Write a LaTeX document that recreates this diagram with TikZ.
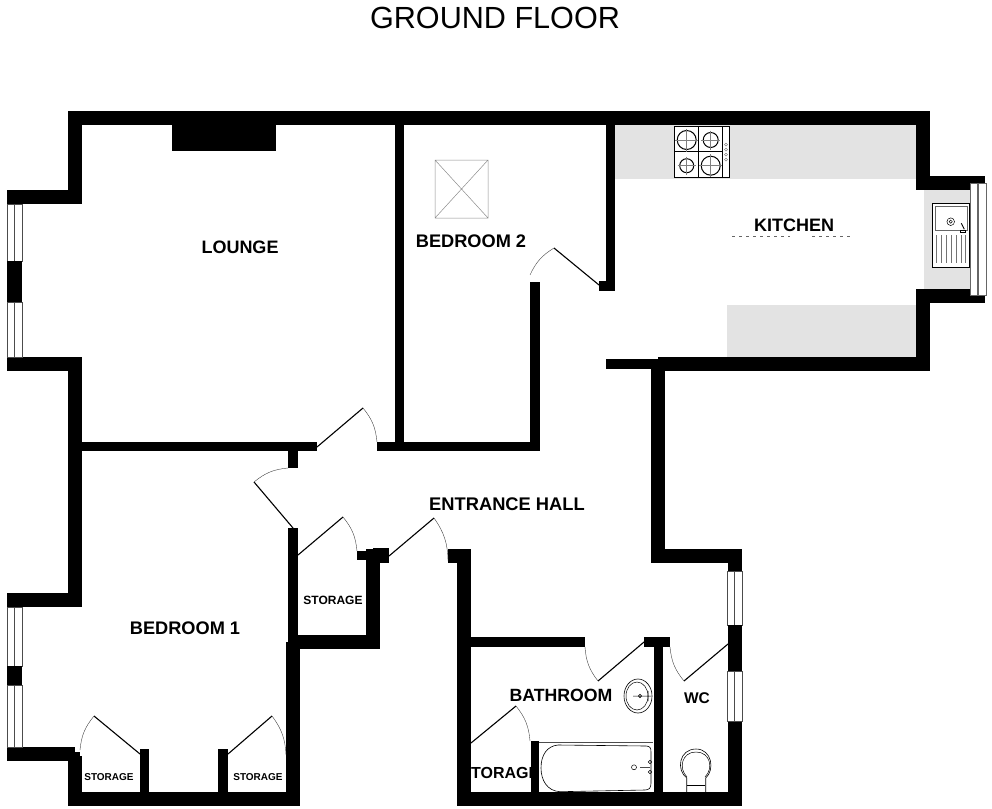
\documentclass[tikz,border=0pt]{standalone}
\usepackage{fontspec}
\setmainfont{Liberation Sans}

\begin{document}
\begin{tikzpicture}[
    x=1pt, y=-1pt,
    wall/.style={fill=black},
    worktop/.style={fill=black!11},
    window pane/.style={draw=black!70, fill=white, line width=0.7pt},
    door leaf/.style={draw=black, line width=1.1pt},
    door swing/.style={draw=black!75, line width=0.4pt},
    fitting/.style={draw=black, line width=0.7pt},
    room label/.style={font=\fontsize{#1}{#1}\selectfont\bfseries, inner sep=0pt}
]
\useasboundingbox (0,0) rectangle (992,808);

% Title
\node[font=\fontsize{30.6}{31}\selectfont, inner sep=0pt] (title) at (495,18) {GROUND FLOOR};

% Worktops
\fill[worktop] (615,125) rectangle (916,179);
\fill[worktop] (727,305) rectangle (916,357);
\fill[worktop] (924,190) rectangle (970,289);

% Outer walls
\fill[wall] (68,111) rectangle (930,125);
\fill[wall] (68,111) rectangle (82,204);
\fill[wall] (7,190) rectangle (82,204);
\fill[wall] (7,357) rectangle (82,371);
\fill[wall] (68,357) rectangle (82,607);
\fill[wall] (7,593) rectangle (82,607);
\fill[wall] (7,747) rectangle (75,761);
\fill[wall] (68,752) rectangle (80,806);
\fill[wall] (68,756) rectangle (82,806);
\fill[wall] (68,792) rectangle (300,806);
\fill[wall] (916,111) rectangle (930,190);
\fill[wall] (916,176) rectangle (985,190);
\fill[wall] (916,289) rectangle (985,303);
\fill[wall] (916,289) rectangle (930,371);
\fill[wall] (658,357) rectangle (930,371);
\fill[wall] (651,359) rectangle (665,563);
\fill[wall] (651,549) rectangle (742,563);
\fill[wall] (728,549) rectangle (742,806);
\fill[wall] (457,792) rectangle (742,806);
\fill[wall] (457,549) rectangle (471,806);
\fill[wall] (448,549) rectangle (471,563);
\fill[wall] (286,642) rectangle (300,806);
\fill[wall] (298,635) rectangle (380,649);
\fill[wall] (366,549) rectangle (380,649);
\fill[wall] (373,548) rectangle (389,563);

% Inner walls
\fill[wall] (172,125) rectangle (276,151);
\fill[wall] (395,125) rectangle (404,451);
\fill[wall] (82,442) rectangle (317,451);
\fill[wall] (377,442) rectangle (540,451);
\fill[wall] (530,282) rectangle (540,451);
\fill[wall] (606,125) rectangle (615,289);
\fill[wall] (599,281) rectangle (615,290.5);
\fill[wall] (606,359) rectangle (658,368.5);
\fill[wall] (288,451) rectangle (298,468);
\fill[wall] (288,528) rectangle (298,642);
\fill[wall] (357,551) rectangle (366,560);
\fill[wall] (471,637) rectangle (585,647);
\fill[wall] (644,637) rectangle (670,647);
\fill[wall] (654,637) rectangle (663,792);
\fill[wall] (531,741) rectangle (539,792);
\fill[wall] (140,749) rectangle (149,792);
\fill[wall] (218,749) rectangle (228,792);

% Windows
\foreach \wx/\wtop/\wbot in {7/204/261, 7/302/357, 7/607/666, 7/685/747, 727/571/625, 727/671/721} {
    \draw[window pane] (\wx,\wtop) rectangle ++(15.6,\wbot-\wtop);
    \draw[window pane] (\wx+7.8,\wtop) -- (\wx+7.8,\wbot);
}
\fill[wall] (7,261) rectangle (22,302);
\fill[wall] (7,666) rectangle (22,685);
\fill[wall] (728,625) rectangle (742,671);
\draw[window pane, draw=black!60, line width=1pt] (970,183) rectangle (986,295);
\draw[draw=black!60, line width=1.2pt] (978,183) -- (978,295);

% Doors
\foreach \hx/\hy/\tx/\ty/\ex/\ey in {317/447/363/408/377/442, 293/528/254/482/288/468,
    298/555/343/517/357/551, 389/556/434/518/448/561, 644/642/598/681/585/647,
    728/644/684/681/670/647, 471/743/516/706/530/741, 228/754/272/716/286/755} {
    \draw[door leaf] (\hx,\hy) -- (\tx,\ty);
    \draw[door swing] (\tx,\ty) to[bend left=17] (\ex,\ey);
}
\foreach \hx/\hy/\tx/\ty/\ex/\ey in {599/285/554/248/530/275, 140/754/94/716/80/750} {
    \draw[door leaf] (\hx,\hy) -- (\tx,\ty);
    \draw[door swing] (\tx,\ty) to[bend right=17] (\ex,\ey);
}

% Skylight
\draw[draw=black!45, line width=0.5pt] (435,160) rectangle (488,218)
    (435,160) -- (488,218) (488,160) -- (435,218);

% Hob
\begin{scope}[shift={(674.7,126.7)}]
    \draw[fitting, fill=white, line width=1pt] (0,0) rectangle (54.6,51);
    \draw[fitting] (23.6,0) -- (23.6,51) (48,0) -- (48,51) (0,24.3) -- (48,24.3);
    \foreach \bx/\by/\br in {12/13.3/9.5, 36/13.3/7.5, 12/39/7, 36/39/9.5} {
        \draw[fitting, fill=white, line width=1pt] (\bx,\by) circle[radius=\br];
        \draw[draw=black!50, line width=0.5pt] (\bx-\br-2,\by) -- (\bx+\br+2,\by) (\bx,\by-\br-2) -- (\bx,\by+\br+2);
    }
    \foreach \ky in {18,23,28,33} {
        \draw[draw=black!60, line width=0.4pt] (51.3,\ky) circle[radius=1.5];
    }
\end{scope}

% Sink
\begin{scope}[shift={(932.3,203.3)}]
    \draw[fitting, fill=white, line width=1pt] (0,0) rectangle (37,64);
    \draw[draw=black!60, line width=0.6pt] (3,3.4) rectangle (35,26.7);
    \draw[fitting, line width=0.5pt] (18.4,18.4) circle[radius=3.8] (18.4,18.4) circle[radius=1.6];
    \draw[fitting, line width=0.9pt] (29,20) -- (32,26);
    \draw[fitting, line width=0.6pt] (28,27) rectangle (33,29);
    \foreach \lx in {4,9,14,19,24,29,33} {
        \draw[draw=black!55, line width=0.5pt] (\lx,32) -- (\lx,60);
    }
\end{scope}

% Basin
\draw[fitting, fill=white, line width=0.6pt] (638,696) ellipse[x radius=14, y radius=17];
\draw[fitting, line width=0.5pt] (637,696) ellipse[x radius=11, y radius=14];
\draw[fitting, line width=0.5pt] (640,696) circle[radius=1.8] (648,691) -- (648,701) (633,696) -- (651,696);

% Bath
\draw[draw=black!70, line width=0.7pt] (539,742.3) -- (653.3,742.3);
\draw[fitting, line width=0.6pt] (558,745) -- (646,746) .. controls (650,746) and (651,748) .. (651,752)
    -- (651,783) .. controls (651,788) and (649,790) .. (645,790) -- (560,791.7)
    .. controls (547,791) and (541,780) .. (541,768) .. controls (541,755) and (547,746) .. (558,745) -- cycle;
\draw[fitting, line width=0.5pt] (634,767.3) circle[radius=2.5];
\draw[draw=black!70, line width=0.8pt] (640,767) -- (650,767);
\draw[fitting, line width=0.5pt] (650,762) circle[radius=1.8] (650,772) circle[radius=1.8];

% Toilet
\draw[fitting, line width=0.6pt] (686.7,792) -- (686.7,778) .. controls (676,770) and (679,749) .. (696,749)
    .. controls (712,749) and (715,770) .. (705.7,778) -- (705.7,792);
\draw[fitting, line width=0.5pt] (687,785) -- (705,785);
\draw[fitting, line width=0.5pt] (687,777) .. controls (678,768) and (682,752) .. (696,752)
    .. controls (710,752) and (714,768) .. (705,777);

% Marks below the kitchen label
\draw[draw=black!60, line width=0.5pt, dash pattern=on 3pt off 4pt] (732,236) -- (790,236) (812,236) -- (851,236);

% Room labels
\node[room label=18] (lounge) at (240,247) {LOUNGE};
\node[room label=18.2] (bedroom two) at (471,241) {BEDROOM 2};
\node[room label=18] (kitchen) at (794,225) {KITCHEN};
\node[room label=18.3] (hall) at (507,504) {ENTRANCE HALL};
\node[room label=18.2] (bedroom one) at (185,628) {BEDROOM 1};
\node[room label=12] (storage hall) at (333,600) {STORAGE};
\node[room label=10] (storage left) at (109,777) {STORAGE};
\node[room label=10] (storage right) at (258,777) {STORAGE};
\node[room label=17.7] (bathroom) at (561,695) {BATHROOM};
\node[room label=15.5] (wc) at (697,698) {WC};
\node[room label=16, anchor=west] (storage bath) at (471,773) {TORAGE};

\end{tikzpicture}
\end{document}
